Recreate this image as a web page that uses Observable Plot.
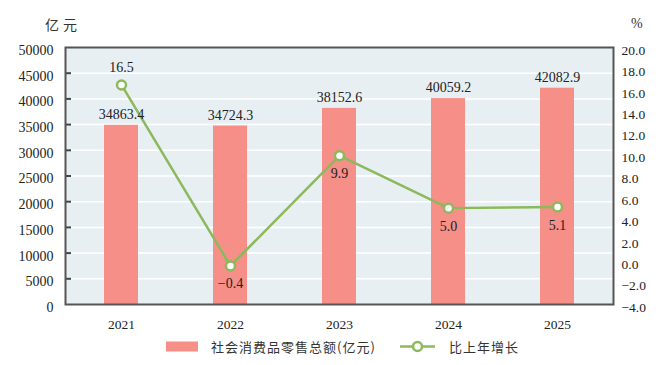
<!DOCTYPE html>
<html>
<head>
<meta charset="utf-8">
<script src="https://cdn.jsdelivr.net/npm/d3@7"></script>
<script src="https://cdn.jsdelivr.net/npm/@observablehq/plot@0.6"></script>
<style>
  html, body { margin: 0; padding: 0; background: #fff; }
  #wrap { position: relative; width: 667px; height: 365px; background: #fff; overflow: hidden; }
  .unit { position: absolute; font-family: "Noto Sans CJK SC", sans-serif; font-size: 14px; color: #333; line-height: 1; }
  #legend { position: absolute; left: 0; top: 337px; width: 667px; height: 20px; font-family: "Noto Sans CJK SC", sans-serif; font-size: 13px; color: #333; }
  .lg { position: absolute; top: 0; line-height: 20px; letter-spacing: 1px; white-space: nowrap; }
</style>
</head>
<body>
<div id="wrap">
  <div id="chart"></div>
  <div class="unit" style="left:45px; top:17px; letter-spacing:4px;">亿元</div>
  <div class="unit" style="left:631px; top:17px; font-family:'Liberation Serif',serif;">%</div>
  <div id="legend">
    <svg class="lg" style="left:166px; top:4px;" width="33" height="11"><rect x="0" y="0.5" width="32" height="10" fill="#f58f88"></rect></svg>
    <div class="lg" style="left:211px;">社会消费品零售总额(亿元)</div>
    <svg class="lg" style="left:400px; top:0px;" width="36" height="20"><line x1="0" x2="35" y1="9.5" y2="9.5" stroke="#8cb95b" stroke-width="2.5"></line><circle cx="17.5" cy="9.5" r="4.5" fill="#fff" stroke="#8cb95b" stroke-width="2.5"></circle></svg>
    <div class="lg" style="left:449px;">比上年增长</div>
  </div>
</div>
<script>
const years = ["2021", "2022", "2023", "2024", "2025"];
const sales = [34863.4, 34724.3, 38152.6, 40059.2, 42082.9];
const growth = [16.5, -0.4, 9.9, 5.0, 5.1];
const leftTicks = [0, 5000, 10000, 15000, 20000, 25000, 30000, 35000, 40000, 45000, 50000];
const rightTicks = [-4, -2, 0, 2, 4, 6, 8, 10, 12, 14, 16, 18, 20];

const leftMax = 50000, rMin = -4, rMax = 20;
const toLeft = v => (v - rMin) / (rMax - rMin) * leftMax;
const fromLeft = d => d / leftMax * (rMax - rMin) + rMin;
const fmtSigned = v => { const s = (Math.round(v * 10) / 10).toFixed(1); return s.replace("-", "\u2212"); };

const data = years.map((year, i) => ({year, sales: sales[i], growth: growth[i], above: i === 0}));

const W = 667, H = 335, mL = 65, mR = 54, mT = 47, mB = 31;
const green = "#8cb95b", salmon = "#f58f88", ink = "#222";
const serif = "Liberation Serif, Times New Roman, serif";

const chart = Plot.plot({
  width: W, height: H,
  marginLeft: mL, marginRight: mR, marginTop: mT, marginBottom: mB,
  style: {fontFamily: serif, fontSize: "14px", color: ink, background: "transparent"},
  x: {type: "band", domain: years, paddingInner: 0.69, paddingOuter: 0.345, label: null},
  y: {domain: [0, leftMax], label: null},
  marks: [
    Plot.frame({fill: "#e8eff3", stroke: null}),
    Plot.gridY(leftTicks.slice(1, -1), {stroke: "#fff", strokeOpacity: 1, strokeWidth: 1.5}),
    Plot.barY(data, {x: "year", y: "sales", fill: salmon}),
    Plot.tickY(leftTicks.slice(1, -1), {y: d => d, stroke: "#444", strokeWidth: 2, insetRight: W - mL - mR - 6}),
    Plot.line(data, {x: "year", y: d => toLeft(d.growth), stroke: green, strokeWidth: 2.5}),
    Plot.dot(data, {x: "year", y: d => toLeft(d.growth), r: 4.5, fill: "#fff", stroke: green, strokeWidth: 2.5}),
    Plot.text(data, {x: "year", y: "sales", text: d => d.sales.toFixed(1), dy: -11, fontSize: 14, fill: ink}),
    Plot.text(data.filter(d => d.above), {x: "year", y: d => toLeft(d.growth), text: d => fmtSigned(d.growth), dy: -17, fontSize: 14, fill: ink}),
    Plot.text(data.filter(d => !d.above), {x: "year", y: d => toLeft(d.growth), text: d => fmtSigned(d.growth), dy: 18, fontSize: 14, fill: ink}),
    Plot.frame({stroke: "#555", strokeWidth: 2}),
    Plot.axisY(leftTicks, {anchor: "left", tickSize: 0, tickPadding: 12, fontSize: 14, dy: 3, label: null, tickFormat: d => String(d)}),
    Plot.axisY(rightTicks.map(toLeft), {anchor: "right", tickSize: 0, tickPadding: 8, fontSize: 13.5, dy: 3, label: null, tickFormat: d => fmtSigned(fromLeft(d))}),
    Plot.axisX({anchor: "bottom", tickSize: 0, tickPadding: 15, fontSize: 13.5, label: null})
  ]
});
document.getElementById("chart").appendChild(chart);
</script>
</body>
</html>
